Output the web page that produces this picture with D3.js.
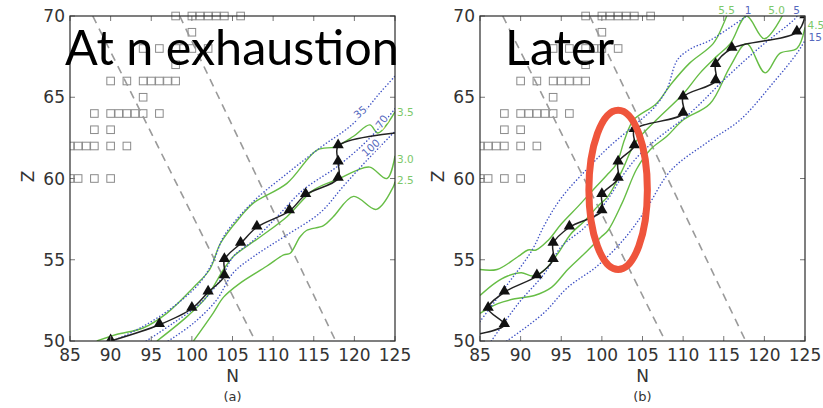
<!DOCTYPE html>
<html>
<head>
<meta charset="utf-8">
<script src="https://cdnjs.cloudflare.com/ajax/libs/d3/7.8.5/d3.min.js"></script>
<style>
  html, body { margin: 0; padding: 0; background: #fff; }
  svg { display: block; }
</style>
</head>
<body>
<svg id="chart" width="823" height="408"></svg>
<script>
// ---- axis ticks ----
const nTicks = [85, 90, 95, 100, 105, 110, 115, 120, 125];
const zTicks = [50, 55, 60, 65, 70];

// ---- stable nuclei (Z and the neutron numbers of its stable isotopes) ----
const stableZ = [70, 69, 68, 67, 66, 65, 64, 63, 62, 60];
const stableN = [
  [98, 100, 101, 102, 103, 104, 106],
  [100],
  [94, 96, 98, 99, 100, 102],
  [98],
  [90, 92, 94, 95, 96, 97, 98],
  [94],
  [88, 90, 91, 92, 93, 94, 96],
  [88, 90],
  [85, 86, 87, 88, 90, 92],
  [85, 86, 88, 90]
];

// ---- constant mass-number guide lines (N, Z end points) ----
const guideA = [[87.8, 70], [107.8, 50]];
const guideB = [[98.5, 70], [117.7, 50]];

// ---- panel (a): r-process path and contours ----
const pathA = [[90, 50], [96, 51], [100, 52], [102, 53], [104, 54], [104, 55], [106, 56], [108, 57],
               [112, 58], [114, 59], [118, 60], [118, 61], [118, 62], [125, 62.8]];
const markersA = [[90, 50], [96, 51], [100, 52], [102, 53], [104, 54], [104, 55], [106, 56], [108, 57],
                  [112, 58], [114, 59], [118, 60], [118, 61], [118, 62]];
const greenA35 = [[88.3, 50], [90.7, 50.4], [94, 50.8], [96.9, 51.7], [100.2, 53.3], [102.2, 54.4], [103.5, 56.0],
                  [105.9, 57.6], [107.6, 58.5], [111.7, 59.7], [115.4, 61.75], [117.6, 61.95], [119.9, 62.6],
                  [121.9, 63.3], [122.9, 62.8], [125, 64.1]];
const greenA30 = [[95.7, 50], [99.4, 51.5], [101.8, 52.7], [103.9, 54.4], [105.1, 55.2], [108.4, 56.4], [111.7, 57.65],
                  [115, 59.3], [118.2, 60.0], [120.3, 60.5], [121.9, 60.7], [124, 60.0], [125, 61.4]];
const greenA25 = [[100.2, 50], [102.6, 51.7], [103.9, 52.7], [105.9, 53.55], [109.2, 54.6], [111.3, 55.3], [112.1, 55.4],
                  [113.3, 56.4], [114.1, 56.8], [116.2, 57.1], [117.4, 57.65], [119.9, 58.9], [122.7, 58.1],
                  [124.8, 59.5], [125, 59.8]];
const blueA35 = [[90.3, 50], [94, 50.9], [97.7, 52.1], [101, 53.6], [102.7, 55], [104, 56.5], [107.6, 58.6],
                 [111.7, 60.3], [115.8, 61.9], [119.9, 63.4], [123.2, 65.3], [125, 66.3]];
const blueA70 = [[94.4, 50], [97.7, 51.1], [101, 52.3], [103.5, 53.75], [105.1, 55.2], [107.6, 56.2], [110.4, 57.6],
                 [113.7, 59.3], [117.8, 60.7], [121.1, 62.1], [123.2, 63.2], [125, 64.3]];
const blueA100 = [[97.1, 50], [100.2, 51.1], [103, 52.5], [105.1, 54.2], [107.6, 55.2], [111.3, 56.4], [115.8, 57.9],
                  [118.6, 59.5], [121.5, 61.1], [124.4, 62.6], [125, 62.9]];

// ---- panel (b): r-process path and contours ----
const pathB = [[85, 50.45], [88, 51], [86, 52], [88, 53], [92, 54], [94, 55], [94, 56], [96, 57], [100, 58],
               [100, 59], [102, 60], [102, 61], [104, 62], [104, 63], [110, 64], [110, 65], [114, 66],
               [114, 67], [116, 68], [124, 69], [125, 70]];
const markersB = [[88, 51], [86, 52], [88, 53], [92, 54], [94, 55], [94, 56], [96, 57], [100, 58], [100, 59],
                  [102, 60], [102, 61], [104, 62], [104, 63], [110, 64], [110, 65], [114, 66], [114, 67],
                  [116, 68], [124, 69], [125, 70]];
const greenB55 = [[85, 54.4], [87.1, 54.4], [89.7, 55.2], [90.9, 55.6], [91.9, 55.6], [93.4, 56.2], [95, 57.2],
                  [97.1, 58.3], [99.1, 59.4], [100.6, 60.2], [101.8, 60.9], [102.8, 62.4], [103.9, 63.6],
                  [106.7, 64.6], [108.5, 65.8], [110.8, 67.1], [113.7, 68.3], [115, 69.55], [115.5, 70.2]];
const greenB50 = [[85, 52.8], [86.8, 53.55], [88.4, 54.0], [90.1, 54.2], [91.5, 54.0], [93, 54.4], [94.6, 55.4],
                  [96.2, 56.6], [97.9, 57.4], [99.5, 58.3], [100.75, 58.9], [102.5, 60.5], [104.1, 62.2],
                  [106.7, 63.6], [110, 65.2], [112.1, 66.5], [114.1, 67.5], [115.8, 68.3], [117.8, 70],
                  [120, 68.6], [122.3, 70.1]];
const greenB45 = [[85, 51.7], [87.2, 52.3], [89.3, 52.6], [91.7, 52.8], [93.8, 53.3], [95.8, 54.4], [97.9, 55.4],
                  [99.9, 56.4], [100.75, 56.8], [102.5, 58.5], [104.3, 60.6], [106, 61.8], [108, 62.6],
                  [110, 63.6], [113.3, 64.6], [115.8, 66.9], [117.8, 68.3], [120.1, 66.5], [121.9, 67.7],
                  [124, 68.0], [125, 69.3]];
const blueB1 = [[85, 51.2], [88.4, 53.5], [91.3, 55.5], [93, 57.2], [95, 58.8], [98.2, 60.6], [101, 62.0],
                [104.3, 63.4], [106.5, 64.4], [108, 65.5], [109.3, 67.3], [111, 68.0], [113.3, 68.5], [117.8, 70]];
const blueB5 = [[86.4, 50], [89.7, 52.3], [93, 54.2], [95, 55.8], [97.9, 57.0], [100.7, 58.7], [102.6, 60.2],
                [104.5, 61.4], [106.7, 62.4], [110.8, 64.0], [115.5, 66.3], [119.5, 68.1], [123.6, 69.75], [124.2, 70.1]];
const blueB15 = [[88.3, 50], [92.8, 51.7], [95.8, 53.3], [99.4, 54.6], [102.6, 56.2], [105.3, 58.0], [108.5, 60.5],
                 [112.9, 62.2], [117, 63.6], [121.1, 65.9], [124, 67.7], [125, 68.5]];

// highlighted region in panel (b): centre (N, Z) and half-widths
const highlightCentre = [102, 59.3];
const highlightRadii = [3.6, 4.9];

const GREEN = "#66bd45";
const BLUE = "#4255c6";
const GREEN_TXT = "#7cc86a";
const BLUE_TXT = "#5568bd";

const svg = d3.select("#chart");
const W = 325, H = 325;

function drawPanel(opts) {
  const g = svg.append("g").attr("transform", `translate(${opts.left},16)`);
  const x = d3.scaleLinear().domain([85, 125]).range([0, W]);
  const y = d3.scaleLinear().domain([50, 70]).range([H, 0]);
  const line = d3.line().x(d => x(d[0])).y(d => y(d[1])).curve(d3.curveCatmullRom.alpha(0.5));
  const straight = d3.line().x(d => x(d[0])).y(d => y(d[1]));

  const clipId = "clip-" + opts.id;
  const sqClipId = "sqclip-" + opts.id;
  const defs = g.append("defs");
  defs.append("clipPath").attr("id", clipId).append("rect").attr("width", W).attr("height", H);
  defs.append("clipPath").attr("id", sqClipId).append("rect").attr("y", -8).attr("width", W).attr("height", H + 8);

  // stable nuclei
  const sq = g.append("g").attr("clip-path", `url(#${sqClipId})`);
  stableZ.forEach((z, i) => {
    stableN[i].forEach(n => {
      sq.append("rect")
        .attr("x", x(n) - 3.8).attr("y", y(z) - 3.8)
        .attr("width", 7.6).attr("height", 7.6)
        .attr("fill", "none").attr("stroke", "#8a8a8a").attr("stroke-width", 1);
    });
  });

  const plot = g.append("g").attr("clip-path", `url(#${clipId})`);

  [guideA, guideB].forEach(d => {
    plot.append("path").attr("d", straight(d)).attr("fill", "none")
      .attr("stroke", "#9a9a9a").attr("stroke-width", 1.6).attr("stroke-dasharray", "8,6");
  });

  opts.greens.forEach(d => {
    plot.append("path").attr("d", line(d)).attr("fill", "none")
      .attr("stroke", GREEN).attr("stroke-width", 1.4);
  });
  opts.blues.forEach(d => {
    plot.append("path").attr("d", line(d)).attr("fill", "none")
      .attr("stroke", BLUE).attr("stroke-width", 1.5).attr("stroke-dasharray", "0.1,3.2")
      .attr("stroke-linecap", "round");
  });

  plot.append("path").attr("d", line(opts.path)).attr("fill", "none")
    .attr("stroke", "#222").attr("stroke-width", 1.5);
  plot.selectAll("path.marker").data(opts.markers).join("path")
    .attr("class", "marker")
    .attr("transform", d => `translate(${x(d[0])},${y(d[1]) - 1})`)
    .attr("d", d3.symbol(d3.symbolTriangle, 56))
    .attr("fill", "#111");

  // inline contour labels
  (opts.inlineLabels || []).forEach(l => {
    g.append("text").attr("transform", `translate(${l.px},${l.py}) rotate(${l.rot})`)
      .attr("text-anchor", "middle").attr("dominant-baseline", "central")
      .attr("font-family", "DejaVu Sans").attr("font-size", 10.5)
      .attr("fill", l.color).attr("stroke", "#fff").attr("stroke-width", 3)
      .attr("paint-order", "stroke").text(l.text);
  });

  // frame and inward ticks
  const ticks = g.append("g").attr("stroke", "#777").attr("stroke-width", 1);
  nTicks.forEach(t => {
    ticks.append("line").attr("x1", x(t)).attr("x2", x(t)).attr("y1", H).attr("y2", H - 5);
    ticks.append("line").attr("x1", x(t)).attr("x2", x(t)).attr("y1", 0).attr("y2", 5);
  });
  zTicks.forEach(t => {
    ticks.append("line").attr("x1", 0).attr("x2", 5).attr("y1", y(t)).attr("y2", y(t));
    ticks.append("line").attr("x1", W).attr("x2", W - 5).attr("y1", y(t)).attr("y2", y(t));
  });
  g.append("rect").attr("width", W).attr("height", H).attr("fill", "none")
    .attr("stroke", "#2a2a2a").attr("stroke-width", 1.2);

  const tickFont = { "font-family": "DejaVu Sans", "font-size": 17, "fill": "#333" };
  nTicks.forEach(t => {
    const tx = g.append("text").attr("x", x(t)).attr("y", H + 20).attr("text-anchor", "middle").text(t);
    Object.entries(tickFont).forEach(([k, v]) => tx.attr(k, v));
  });
  zTicks.forEach(t => {
    const tx = g.append("text").attr("x", -5).attr("y", y(t)).attr("text-anchor", "end")
      .attr("dominant-baseline", "central").text(t);
    Object.entries(tickFont).forEach(([k, v]) => tx.attr(k, v));
  });

  g.append("text").attr("x", W / 2).attr("y", H + 41).attr("text-anchor", "middle")
    .attr("font-family", "DejaVu Sans").attr("font-size", 17).attr("fill", "#333").text("N");
  g.append("text").attr("transform", `translate(-42,${H / 2 - 2}) rotate(-90)`)
    .attr("text-anchor", "middle").attr("dominant-baseline", "central")
    .attr("font-family", "DejaVu Sans").attr("font-size", 17).attr("fill", "#333").text("Z");
  g.append("text").attr("x", W / 2).attr("y", H + 60).attr("text-anchor", "middle")
    .attr("font-family", "DejaVu Sans").attr("font-size", 13).attr("fill", "#333").text(opts.caption);

  // edge labels of contour levels
  opts.edgeLabels.forEach(l => {
    g.append("text").attr("x", l.px).attr("y", l.py).attr("text-anchor", l.anchor || "start")
      .attr("dominant-baseline", "central")
      .attr("font-family", "DejaVu Sans").attr("font-size", 10.5).attr("fill", l.color).text(l.text);
  });

  if (opts.highlight) {
    const [cn, cz] = opts.highlight.centre;
    const [rn, rz] = opts.highlight.radii;
    g.append("ellipse").attr("cx", x(cn)).attr("cy", y(cz))
      .attr("rx", x(cn + rn) - x(cn)).attr("ry", y(cz - rz) - y(cz))
      .attr("fill", "none").attr("stroke", "#ef553c").attr("stroke-width", 7);
  }

  g.append("text").attr("x", opts.titleX).attr("y", 49).attr("font-family", "Lato")
    .attr("font-size", 48.5).attr("fill", "#000").text(opts.title);
}

drawPanel({
  id: "a", left: 70, caption: "(a)", title: "At n exhaustion", titleX: -5,
  path: pathA, markers: markersA,
  greens: [greenA35, greenA30, greenA25],
  blues: [blueA35, blueA70, blueA100],
  inlineLabels: [
    { text: "35", px: 290, py: 96, rot: -40, color: BLUE_TXT },
    { text: "70", px: 311.5, py: 105.5, rot: -55, color: BLUE_TXT },
    { text: "100", px: 300.5, py: 131.5, rot: -42, color: BLUE_TXT }
  ],
  edgeLabels: [
    { text: "3.5", px: 327, py: 96, color: GREEN_TXT },
    { text: "3.0", px: 327, py: 143, color: GREEN_TXT },
    { text: "2.5", px: 327, py: 163.5, color: GREEN_TXT }
  ]
});

drawPanel({
  id: "b", left: 480, caption: "(b)", title: "Later", titleX: 25,
  path: pathB, markers: markersB,
  greens: [greenB55, greenB50, greenB45],
  blues: [blueB1, blueB5, blueB15],
  edgeLabels: [
    { text: "5.5", px: 246.5, py: -6, anchor: "middle", color: GREEN_TXT },
    { text: "1", px: 268, py: -6, anchor: "middle", color: BLUE_TXT },
    { text: "5.0", px: 296.5, py: -6, anchor: "middle", color: GREEN_TXT },
    { text: "5", px: 316.5, py: -6, anchor: "middle", color: BLUE_TXT },
    { text: "4.5", px: 327.5, py: 8.5, color: GREEN_TXT },
    { text: "15", px: 328.5, py: 21, color: BLUE_TXT }
  ],
  highlight: { centre: highlightCentre, radii: highlightRadii }
});
</script>
</body>
</html>
